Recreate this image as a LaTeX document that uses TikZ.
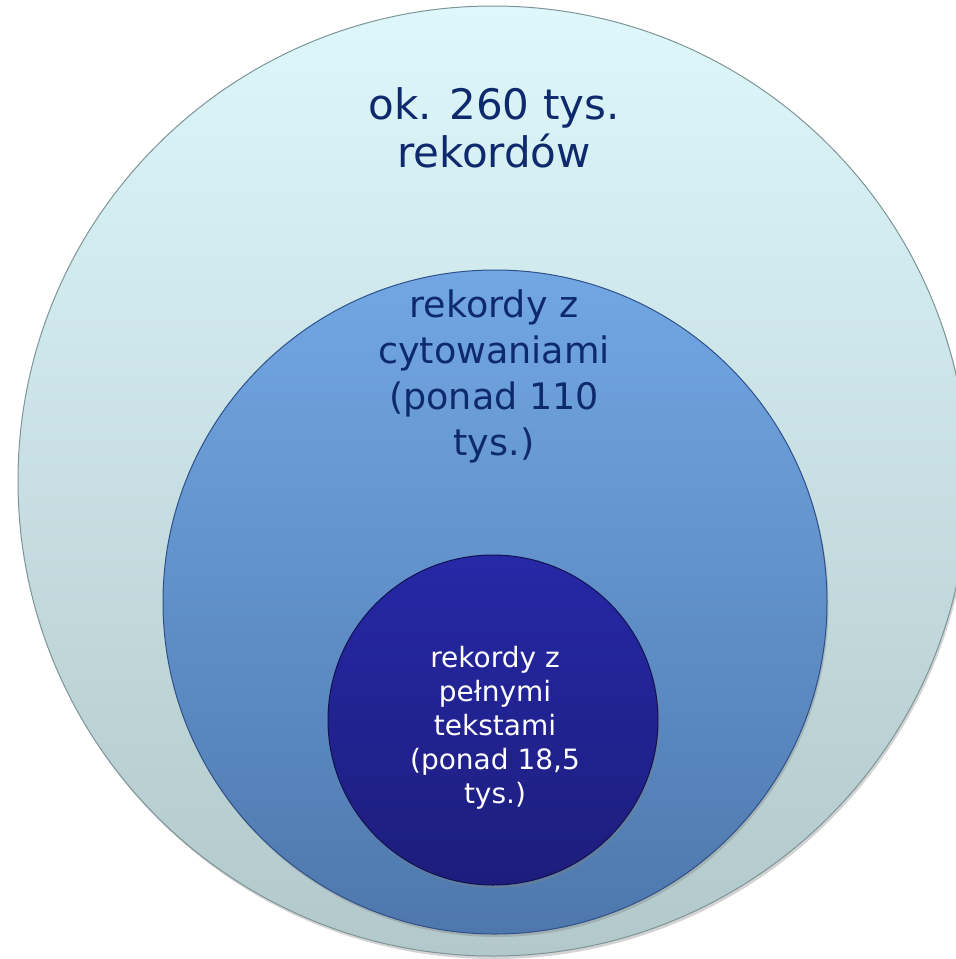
\documentclass[tikz,border=0pt]{standalone}
\usepackage{fontspec}
\setmainfont{DejaVu Sans}
\usetikzlibrary{shadows}
\definecolor{outerTop}{HTML}{DDF7FB}
\definecolor{outerBot}{HTML}{B2C8CA}
\definecolor{outerEdge}{HTML}{7E9598}
\definecolor{midTop}{HTML}{72A7E4}
\definecolor{midBot}{HTML}{4E78AD}
\definecolor{midEdge}{HTML}{2F5088}
\definecolor{inTop}{HTML}{2628A6}
\definecolor{inBot}{HTML}{1D1D7C}
\definecolor{inEdge}{HTML}{121250}
\definecolor{navy}{HTML}{0E2A6C}
\tikzset{
  disc/.style={circle, inner sep=0pt, line width=1pt,
    drop shadow={shadow xshift=1.5pt, shadow yshift=-3pt, opacity=0.35}},
  label/.style={anchor=north, align=center, inner sep=0pt}
}
\begin{document}
\begin{tikzpicture}[x=1pt,y=-1pt]
\useasboundingbox (0,0) rectangle (956,959);
\clip (0,0) rectangle (956,959);
\node[disc, minimum size=950pt, top color=outerTop, bottom color=outerBot, draw=outerEdge] (outer) at (493,481) {};
\node[disc, minimum size=664pt, top color=midTop, bottom color=midBot, draw=midEdge] (middle) at (495,602) {};
\node[disc, minimum size=330pt, top color=inTop, bottom color=inBot, draw=inEdge] (inner) at (493,720) {};
\node[label, text=navy, font=\fontsize{42}{48}\selectfont] (t1) at (494,87) {ok. 260 tys.\\rekordów};
\node[label, text=navy, font=\fontsize{36.5}{46}\selectfont] (t2) at (494,290) {rekordy z\\cytowaniami\\(ponad 110\\tys.)};
\node[label, text=white, font=\fontsize{28}{34}\selectfont] (t3) at (495,646) {rekordy z\\pełnymi\\tekstami\\(ponad 18,5\\tys.)};
\end{tikzpicture}
\end{document}
